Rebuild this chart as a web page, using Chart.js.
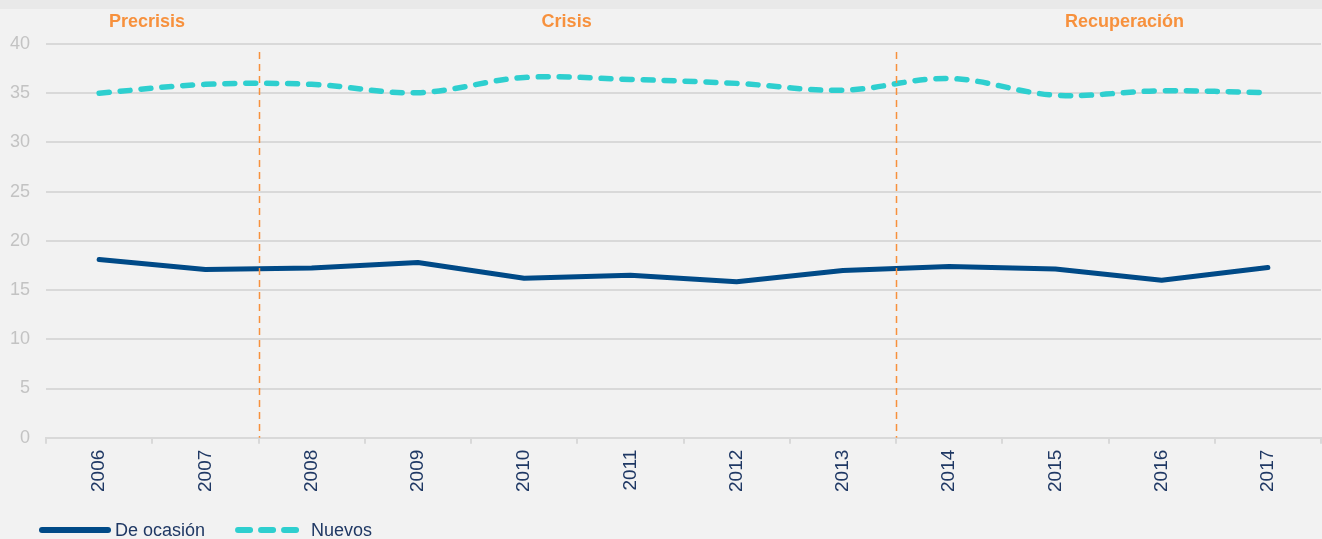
<!DOCTYPE html>
<html>
<head>
<meta charset="utf-8">
<script src="https://cdn.jsdelivr.net/npm/chart.js@4.4.1/dist/chart.umd.min.js"></script>
<style>
  html, body { margin: 0; padding: 0; background: #f2f2f2; }
  #wrap { width: 1322px; height: 539px; position: relative; }
</style>
</head>
<body>
<div id="wrap"><canvas id="lineChart"></canvas></div>
<script>
// chart data
const years = ["2006", "2007", "2008", "2009", "2010", "2011", "2012", "2013", "2014", "2015", "2016", "2017"];
const deOcasion = [18.1, 17.1, 17.25, 17.8, 16.2, 16.5, 15.85, 17.0, 17.4, 17.15, 16.0, 17.3];
const nuevos = [35.0, 35.9, 35.9, 35.05, 36.6, 36.4, 36.0, 35.3, 36.5, 34.8, 35.25, 35.05];
const yTicks = [0, 5, 10, 15, 20, 25, 30, 35, 40];

// periods: name, label anchor (category index) and the boundary after it
const periodNames = ["Precrisis", "Crisis", "Recuperación"];
const periodAnchors = [0.45, 4.4, 9.65];
const periodBreaks = [1.5, 7.5];

const orange = "#f7913d";
const fontFamily = "'Liberation Sans', Arial, sans-serif";

// Plugin for background, period labels, dashed separators and legend
const periodsPlugin = {
  id: "periods",
  beforeDraw(chart) {
    const ctx = chart.ctx;
    ctx.save();
    ctx.fillStyle = "#f2f2f2";
    ctx.fillRect(0, 0, chart.width, chart.height);
    ctx.fillStyle = "#e9e9e9";
    ctx.fillRect(0, 0, chart.width, 9);
    ctx.restore();
  },
  afterDatasetsDraw(chart) {
    const ctx = chart.ctx;
    const x = chart.scales.x;
    const y = chart.scales.y;
    ctx.save();
    ctx.strokeStyle = orange;
    ctx.lineWidth = 1.5;
    ctx.setLineDash([7, 5]);
    periodBreaks.forEach((b) => {
      const px = Math.round(x.getPixelForValue(b)) + 0.5;
      ctx.beginPath();
      ctx.moveTo(px, chart.chartArea.top + 8);
      ctx.lineTo(px, y.getPixelForValue(0));
      ctx.stroke();
    });
    ctx.setLineDash([]);
    ctx.fillStyle = orange;
    ctx.font = "bold 18px " + fontFamily;
    ctx.textAlign = "center";
    ctx.textBaseline = "middle";
    periodNames.forEach((name, i) => {
      ctx.fillText(name, x.getPixelForValue(periodAnchors[i]), 22);
    });

    // legend at the bottom
    let lx = 42;
    const ly = 530;
    ctx.font = "18px " + fontFamily;
    ctx.textAlign = "left";
    chart.data.datasets.forEach((ds) => {
      ctx.strokeStyle = ds.borderColor;
      ctx.lineWidth = 6;
      ctx.lineCap = "round";
      ctx.setLineDash(ds.borderDash ? [12, 11] : []);
      ctx.beginPath();
      ctx.moveTo(lx, ly);
      ctx.lineTo(lx + 66, ly);
      ctx.stroke();
      ctx.setLineDash([]);
      ctx.fillStyle = "#1f3864";
      ctx.fillText(ds.label, lx + 73, ly + 1);
      lx += 73 + ctx.measureText(ds.label).width + 33;
    });
    ctx.restore();
  }
};

const chart = new Chart(document.getElementById("lineChart"), {
  type: "line",
  data: {
    labels: years,
    datasets: [
      {
        label: "De ocasión",
        data: deOcasion,
        borderColor: "#004a87",
        backgroundColor: "#004a87",
        borderWidth: 5,
        borderCapStyle: "round",
        borderJoinStyle: "round",
        pointRadius: 0,
        tension: 0
      },
      {
        label: "Nuevos",
        data: nuevos,
        borderColor: "#2ecfcf",
        backgroundColor: "#2ecfcf",
        borderWidth: 5.5,
        borderDash: [10, 11],
        borderCapStyle: "round",
        pointRadius: 0,
        tension: 0.35
      }
    ]
  },
  options: {
    responsive: true,
    maintainAspectRatio: false,
    animation: false,
    layout: { padding: { top: 44, right: 1, left: 0, bottom: 41 } },
    plugins: {
      legend: { display: false },
      tooltip: { enabled: false }
    },
    scales: {
      x: {
        offset: true,
        grid: {
          offset: true,
          drawOnChartArea: false,
          drawTicks: true,
          tickLength: 6,
          color: "#d9d9d9",
          lineWidth: 2
        },
        border: { color: "#d9d9d9", width: 2 },
        ticks: {
          minRotation: 90,
          maxRotation: 90,
          padding: 6,
          color: "#1f3864",
          font: { size: 19, family: fontFamily }
        }
      },
      y: {
        min: 0,
        max: 40,
        afterBuildTicks: (axis) => {
          axis.ticks = yTicks.map((v) => ({ value: v }));
        },
        afterFit: (axis) => {
          axis.width = 46;
        },
        grid: { color: "#d9d9d9", lineWidth: 2, drawTicks: false },
        border: { display: false },
        ticks: {
          padding: 16,
          color: "#c3c3c3",
          font: { size: 18, family: fontFamily }
        }
      }
    }
  },
  plugins: [periodsPlugin]
});
</script>
</body>
</html>
